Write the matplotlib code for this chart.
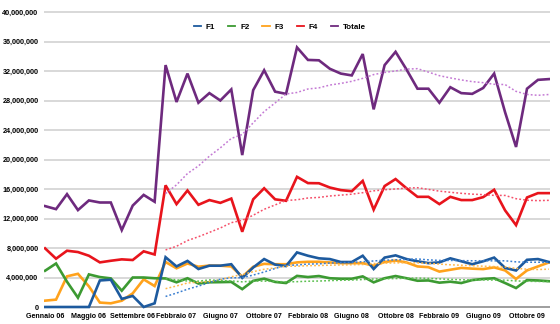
import matplotlib
matplotlib.use("Agg")
import matplotlib.pyplot as plt
import numpy as np
import pandas as pd

mesi = ["Gennaio 06", "Febbraio 06", "Marzo 06", "Aprile 06", "Maggio 06", "Giugno 06",
        "Luglio 06", "Agosto 06", "Settembre 06", "Ottobre 06", "Novembre 06", "Gennaio 07",
        "Febbraio 07", "Marzo 07", "Aprile 07", "Maggio 07", "Giugno 07", "Luglio 07",
        "Agosto 07", "Settembre 07", "Ottobre 07", "Novembre 07", "Dicembre 07", "Gennaio 08",
        "Febbraio 08", "Marzo 08", "Aprile 08", "Maggio 08", "Giugno 08", "Luglio 08",
        "Agosto 08", "Settembre 08", "Ottobre 08", "Novembre 08", "Dicembre 08", "Gennaio 09",
        "Febbraio 09", "Marzo 09", "Aprile 09", "Maggio 09", "Giugno 09", "Luglio 09",
        "Agosto 09", "Settembre 09", "Ottobre 09", "Novembre 09", "Dicembre 09"]

F1 = [0, 0, 0, 0, 0, 3.6, 3.7, 1.1, 1.5, 0, 0.5, 6.75,
      5.5, 6.25, 5.15, 5.6, 5.6, 5.8, 3.95, 5.35, 6.5, 5.75, 5.55, 7.4,
      6.95, 6.6, 6.5, 6.1, 6.1, 6.95, 5.15, 6.7, 7.0, 6.5, 6.2, 5.95,
      6.05, 6.6, 6.2, 5.8, 6.2, 6.7, 5.3, 4.95, 6.4, 6.5, 6.1]
F2 = [4.92, 5.9, 3.43, 1.26, 4.42, 4.06, 3.88, 2.21, 4.0, 4.0, 3.9, 3.87,
      3.35, 3.9, 3.18, 3.35, 3.37, 3.4, 2.42, 3.55, 3.84, 3.4, 3.25, 4.22,
      4.06, 4.2, 3.9, 3.83, 3.83, 4.15, 3.34, 3.9, 4.2, 3.9, 3.56, 3.6,
      3.3, 3.43, 3.25, 3.65, 3.8, 3.9, 3.25, 2.57, 3.65, 3.6, 3.5]
F3 = [0.86, 1.0, 4.16, 4.5, 2.8, 0.6, 0.5, 0.85, 1.85, 3.75, 2.84, 6.1,
      5.25, 5.9, 5.46, 5.62, 5.6, 5.5, 4.1, 5.45, 5.85, 5.8, 5.8, 6.05,
      6.13, 6.13, 6.04, 5.95, 5.95, 5.95, 5.6, 6.1, 6.3, 6.04, 5.5, 5.4,
      4.8, 5.05, 5.3, 5.2, 5.14, 5.37, 4.96, 3.8, 4.96, 5.5, 6.04]
F4 = [7.95, 6.55, 7.63, 7.45, 6.95, 6.05, 6.27, 6.46, 6.37, 7.55, 7.12, 16.5,
      13.95, 15.8, 13.86, 14.5, 14.12, 14.7, 10.2, 14.6, 16.1, 14.6, 14.4, 17.65,
      16.8, 16.78, 16.2, 15.85, 15.7, 17.1, 13.2, 16.4, 17.35, 16.1, 14.94, 14.94,
      13.95, 14.94, 14.5, 14.5, 14.9, 15.9, 13.1, 11.1, 14.85, 15.44, 15.44]
Totale = [13.68, 13.27, 15.3, 13.14, 14.45, 14.17, 14.17, 10.43, 13.75, 15.2, 14.27, 32.8,
          27.8, 31.65, 27.7, 29.0, 28.0, 29.5, 20.6, 29.4, 32.1, 29.2, 28.9, 35.2,
          33.5, 33.45, 32.3, 31.65, 31.4, 34.3, 26.8, 32.8, 34.6, 32.2, 29.6, 29.6,
          27.7, 29.8, 29.0, 28.9, 29.7, 31.65, 26.4, 21.7, 29.6, 30.8, 30.9]

serie = ["F1", "F2", "F3", "F4", "Totale"]
valori = [F1, F2, F3, F4, Totale]
colori = ["#1d5a9e", "#3c9a32", "#ffa21c", "#e8141c", "#6e2a7e"]
colori_trend = ["#3a7ed0", "#5cc050", "#ffb84a", "#f5506a", "#c47ad4"]
finestra = 12

plt.rcParams['font.family'] = ['Liberation Sans', 'DejaVu Sans']
fig = plt.figure(figsize=(5.6, 3.24), dpi=100)
H = 324.0
ylo, yhi = -0.3e6, 40.3e6
ppu = 295.0 / 40e6
bottom_px = 307 + 0.3e6 * ppu
top_px = 12 - 0.3e6 * ppu
ax = fig.add_axes([44 / 560, (H - bottom_px) / H, (550 - 44) / 560, (bottom_px - top_px) / H])

x = np.arange(len(mesi))
df = pd.DataFrame({s: np.array(v) * 1e6 for s, v in zip(serie, valori)})

order = [4, 3, 2, 1, 0]
handles = {}
for k in order:
    s = serie[k]
    ln, = ax.plot(x, df[s], color=colori[k], lw=1.9, solid_joinstyle='miter', zorder=3 + (4 - k) * 0.1, label=s)
    handles[s] = ln
for k in order:
    s = serie[k]
    tr = df[s].rolling(finestra).mean()
    ax.plot(x, tr, color=colori_trend[k], lw=1.1, linestyle=(0, (1.2, 1.4)), zorder=4)

ax.set_xlim(-0.1, len(mesi) - 1 + 0.1)
ax.set_ylim(ylo, yhi)
yt = np.arange(0, 40e6 + 1, 4e6)
ax.set_yticks(yt)
ax.set_yticklabels([f"{int(v):,}" for v in yt], fontsize=5.2, fontweight='bold')
xt = list(range(0, len(mesi), 4))
ax.set_xticks(xt)
ax.set_xticklabels([mesi[i] for i in xt], fontsize=5.1, fontweight='bold')
ax.tick_params(axis='both', length=0)
ax.tick_params(axis='y', pad=4)
ax.tick_params(axis='x', pad=3)
for sp in ax.spines.values():
    sp.set_visible(False)
ax.grid(axis='y', color='#d6d6d6', lw=1.3)
ax.axhline(0, color='#9a9a9a', lw=1.3, zorder=2)
ax.set_axisbelow(True)

leg = fig.legend([handles[s] for s in serie], serie, loc='center', bbox_to_anchor=(0.5, (H - 27) / H),
                 ncol=5, frameon=False, handlelength=0.9, handletextpad=0.6, columnspacing=1.6,
                 prop={'size': 5.8, 'weight': 'bold'})
for l in leg.get_lines():
    l.set_linewidth(1.3)

fig.savefig("out.png", dpi=100)
